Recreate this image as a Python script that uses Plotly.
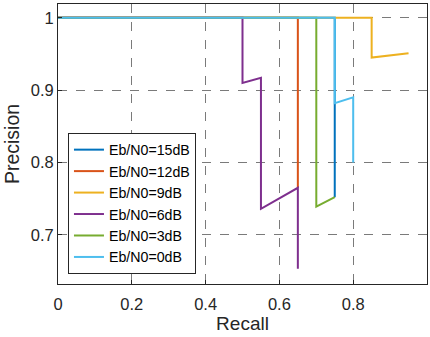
import plotly.graph_objects as go

names = ["Eb/N0=15dB", "Eb/N0=12dB", "Eb/N0=9dB", "Eb/N0=6dB", "Eb/N0=3dB", "Eb/N0=0dB"]
colors = ["#0072BD", "#D95319", "#EDB120", "#7E2F8E", "#77AC30", "#4DBEEE"]

recall = [
    [0, 0.75, 0.75],
    [0, 0.65, 0.65],
    [0, 0.85, 0.85, 0.95],
    [0, 0.50, 0.50, 0.55, 0.55, 0.65, 0.65],
    [0, 0.70, 0.70, 0.75],
    [0, 0.75, 0.75, 0.80, 0.80],
]
precision = [
    [1, 1, 0.752],
    [1, 1, 0.765],
    [1, 1, 0.945, 0.951],
    [1, 1, 0.910, 0.917, 0.736, 0.765, 0.653],
    [1, 1, 0.739, 0.752],
    [1, 1, 0.882, 0.890, 0.800],
]

xticks = [0, 0.2, 0.4, 0.6, 0.8, 1]
yticks = [0.7, 0.8, 0.9, 1]

fig = go.Figure()
for n, c, x, y in zip(names, colors, recall, precision):
    fig.add_trace(go.Scatter(x=x, y=y, mode="lines", name=n,
                             line=dict(color=c, width=2)))

font = "Liberation Sans, Arial, sans-serif"
fig.update_layout(
    width=430, height=337,
    margin=dict(l=58, r=3, t=4, b=53),
    paper_bgcolor="white", plot_bgcolor="white",
    font=dict(family=font, size=16, color="#262626"),
    showlegend=True,
    legend=dict(x=0.027, y=0.036, xanchor="left", yanchor="bottom",
                bgcolor="white", bordercolor="#262626", borderwidth=1,
                font=dict(size=14.2, color="#000"), tracegroupgap=0,
                itemwidth=30),
    xaxis=dict(range=[0, 1], tickvals=xticks, ticktext=[f"{v:g}" for v in xticks],
               showgrid=True, gridcolor="#7a7a7a", griddash="dash", gridwidth=1,
               showline=True, linecolor="#262626", linewidth=1, mirror=True,
               ticks="inside", ticklen=4, tickcolor="#262626",
               ticklabelstandoff=5,
               zeroline=False, tickfont=dict(size=16.5, color="#262626"),
               title=dict(text="Recall", font=dict(size=19), standoff=4)),
    yaxis=dict(range=[0.632, 1.019], tickvals=yticks, ticktext=[f"{v:g}" for v in yticks],
               showgrid=True, gridcolor="#7a7a7a", griddash="dash", gridwidth=1,
               showline=True, linecolor="#262626", linewidth=1, mirror=True,
               ticks="inside", ticklen=4, tickcolor="#262626",
               zeroline=False, tickfont=dict(size=16.5, color="#262626"),
               title=dict(text="Precision", font=dict(size=19.5), standoff=5)),
)

fig.write_html("out.html")
